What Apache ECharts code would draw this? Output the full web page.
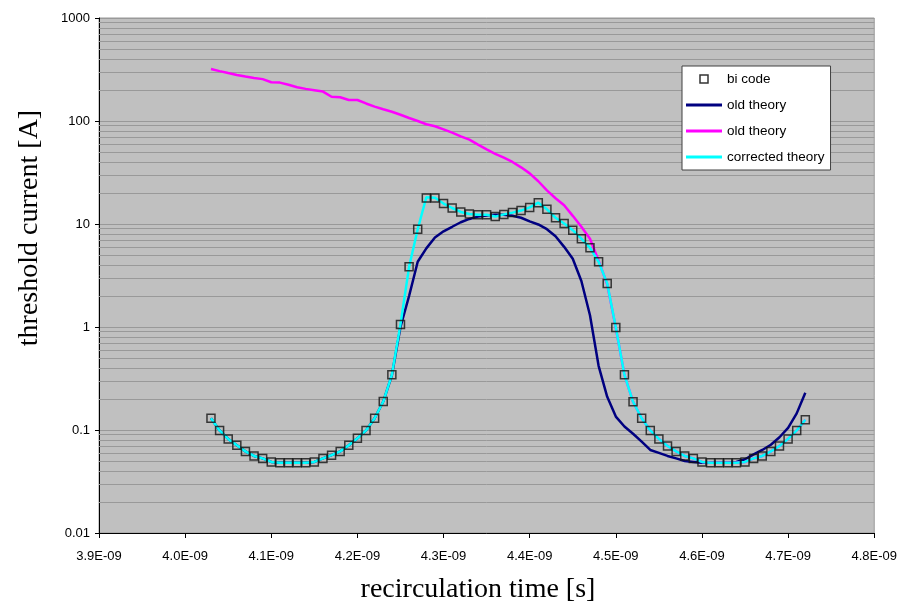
<!DOCTYPE html>
<html>
<head>
<meta charset="utf-8">
<script src="https://cdn.jsdelivr.net/npm/echarts@6/dist/echarts.min.js"></script>
<style>
  html, body { margin: 0; padding: 0; background: #fff; }
  #chart { width: 900px; height: 607px; }
</style>
</head>
<body>
<div id="chart"></div>
<script>
// recirculation time in units of 1E-09 s
const timeNs = [
  4.03, 4.04, 4.05, 4.06, 4.07, 4.08, 4.09, 4.10, 4.11, 4.12,
  4.13, 4.14, 4.15, 4.16, 4.17, 4.18, 4.19, 4.20, 4.21, 4.22,
  4.23, 4.24, 4.25, 4.26, 4.27, 4.28, 4.29, 4.30, 4.31, 4.32,
  4.33, 4.34, 4.35, 4.36, 4.37, 4.38, 4.39, 4.40, 4.41, 4.42,
  4.43, 4.44, 4.45, 4.46, 4.47, 4.48, 4.49, 4.50, 4.51, 4.52,
  4.53, 4.54, 4.55, 4.56, 4.57, 4.58, 4.59, 4.60, 4.61, 4.62,
  4.63, 4.64, 4.65, 4.66, 4.67, 4.68, 4.69, 4.70, 4.71, 4.72
];

// threshold current [A], tracking code results
const biCode = [
  0.13, 0.099, 0.082, 0.071, 0.062, 0.056, 0.053, 0.049, 0.048, 0.048,
  0.048, 0.048, 0.049, 0.053, 0.057, 0.062, 0.071, 0.083, 0.099, 0.13,
  0.189, 0.343, 1.06, 3.84, 8.9, 17.9, 17.9, 15.8, 14.3, 13.1,
  12.5, 12.3, 12.3, 11.8, 12.4, 12.9, 13.5, 14.5, 16.1, 13.9,
  11.5, 10.1, 8.7, 7.2, 5.87, 4.3, 2.65, 0.99, 0.343, 0.188,
  0.13, 0.099, 0.082, 0.070, 0.062, 0.056, 0.053, 0.049, 0.048, 0.048,
  0.048, 0.048, 0.049, 0.053, 0.056, 0.062, 0.070, 0.082, 0.099, 0.126
];

// old theory (dark blue curve)
const oldTheoryA = [
  0.13, 0.099, 0.082, 0.071, 0.062, 0.056, 0.053, 0.049, 0.048, 0.048,
  0.048, 0.048, 0.049, 0.053, 0.057, 0.062, 0.071, 0.083, 0.099, 0.13,
  0.189, 0.34, 1.0, 2.0, 4.3, 5.8, 7.4, 8.5, 9.4, 10.4,
  11.2, 11.8, 12.1, 12.3, 12.3, 12.0, 11.5, 10.6, 9.9, 8.9,
  7.6, 6.0, 4.6, 2.8, 1.3, 0.42, 0.21, 0.135, 0.108, 0.092,
  0.077, 0.064, 0.060, 0.056, 0.053, 0.050, 0.049, 0.048, 0.048, 0.048,
  0.048, 0.049, 0.052, 0.058, 0.064, 0.072, 0.085, 0.105, 0.145, 0.23
];

// old theory (magenta curve)
const oldTheoryB = [
  320, 305, 292, 280, 270, 262, 255, 238, 236, 225,
  213, 205, 199, 193, 172, 170, 160, 160, 148, 138,
  130, 123, 115, 107, 100, 93, 89, 83, 77, 71,
  66, 59, 53, 48, 44, 40, 35.5, 31, 26, 21.2,
  17.8, 15.2, 12.0, 9.4, 7.2, 4.4, 2.6, 0.98, 0.343, 0.188,
  0.13, 0.099, 0.082, 0.070, 0.062, 0.056, 0.053, 0.049, 0.048, 0.048,
  0.048, 0.048, 0.049, 0.053, 0.056, 0.062, 0.070, 0.082, 0.099, 0.126
];

// corrected theory
const correctedTheory = [
  0.13, 0.099, 0.082, 0.071, 0.062, 0.056, 0.053, 0.049, 0.048, 0.048,
  0.048, 0.048, 0.049, 0.053, 0.057, 0.062, 0.071, 0.083, 0.099, 0.13,
  0.189, 0.343, 1.06, 3.84, 8.9, 18.2, 18.0, 15.8, 14.3, 13.1,
  12.5, 12.3, 12.3, 11.8, 12.4, 12.9, 13.5, 14.5, 16.1, 13.9,
  11.5, 10.1, 8.7, 7.2, 5.87, 4.3, 2.65, 0.99, 0.343, 0.188,
  0.13, 0.099, 0.082, 0.070, 0.062, 0.056, 0.053, 0.049, 0.048, 0.048,
  0.048, 0.048, 0.049, 0.053, 0.056, 0.062, 0.070, 0.082, 0.099, 0.126
];

const xTickValues = [3.9, 4.0, 4.1, 4.2, 4.3, 4.4, 4.5, 4.6, 4.7, 4.8];
const xTickLabels = ['3.9E-09', '4.0E-09', '4.1E-09', '4.2E-09', '4.3E-09',
                     '4.4E-09', '4.5E-09', '4.6E-09', '4.7E-09', '4.8E-09'];
const yTickValues = [0.01, 0.1, 1, 10, 100, 1000];
const yTickLabels = ['0.01', '0.1', '1', '10', '100', '1000'];
const yMinorValues = [
  0.02, 0.03, 0.04, 0.05, 0.06, 0.07, 0.08, 0.09,
  0.2, 0.3, 0.4, 0.5, 0.6, 0.7, 0.8, 0.9,
  2, 3, 4, 5, 6, 7, 8, 9,
  20, 30, 40, 50, 60, 70, 80, 90,
  200, 300, 400, 500, 600, 700, 800, 900
];

const seriesNames = ['bi code', 'old theory A', 'old theory B', 'corrected theory'];
const legendLabels = ['bi code', 'old theory', 'old theory', 'corrected theory'];

const pairs = (ys) => timeNs.map((t, i) => [t, ys[i]]);

const sans = '"Liberation Sans", Arial, sans-serif';
const serif = '"Liberation Serif", "Times New Roman", serif';
const gridColor = '#999999';

const chart = echarts.init(document.getElementById('chart'), null, { renderer: 'canvas' });

chart.setOption({
  animation: false,
  backgroundColor: '#ffffff',
  grid: {
    left: 99, right: 25, top: 18, bottom: 74,
    show: true,
    backgroundColor: '#c0c0c0',
    borderColor: gridColor,
    borderWidth: 1
  },
  xAxis: {
    type: 'value',
    min: 3.9, max: 4.8, interval: 0.1,
    axisLine: { show: true, onZero: false, lineStyle: { color: '#000', width: 1 } },
    axisTick: { show: true, inside: false, length: 5, lineStyle: { color: '#000' } },
    splitLine: { show: false },
    axisLabel: {
      margin: 17,
      color: '#000',
      fontFamily: sans,
      fontSize: 13,
      formatter: (v) => {
        const i = xTickValues.findIndex((t) => Math.abs(t - v) < 1e-6);
        return i >= 0 ? xTickLabels[i] : '';
      }
    }
  },
  yAxis: {
    type: 'log',
    logBase: 10,
    min: 0.01, max: 1000,
    axisLine: { show: true, onZero: false, lineStyle: { color: '#000', width: 1 } },
    axisTick: { show: true, inside: false, length: 4, lineStyle: { color: '#000' } },
    splitLine: { show: true, lineStyle: { color: gridColor, width: 1 } },
    minorTick: { show: false },
    axisLabel: {
      margin: 9,
      color: '#000',
      fontFamily: sans,
      fontSize: 13,
      formatter: (v) => {
        const i = yTickValues.findIndex((t) => Math.abs(Math.log10(t) - Math.log10(v)) < 1e-6);
        return i >= 0 ? yTickLabels[i] : '';
      }
    }
  },
  legend: {
    orient: 'vertical',
    left: 682, top: 66,
    padding: [6, 6, 6, 4],
    itemGap: 12,
    itemWidth: 36,
    itemHeight: 8,
    backgroundColor: '#ffffff',
    borderColor: '#404040',
    borderWidth: 1,
    borderRadius: 0,
    selectedMode: false,
    textStyle: { color: '#000', fontFamily: sans, fontSize: 13.5, lineHeight: 14 },
    formatter: (name) => legendLabels[seriesNames.indexOf(name)],
    data: [
      { name: seriesNames[0], icon: 'path://M0,0h10v10h-10z',
        itemStyle: { color: 'rgba(0,0,0,0)', borderColor: '#000', borderWidth: 1.5 } },
      { name: seriesNames[1], icon: 'path://M0,0h36v3h-36z', itemStyle: { color: '#000080', borderWidth: 0 } },
      { name: seriesNames[2], icon: 'path://M0,0h36v3h-36z', itemStyle: { color: '#ff00ff', borderWidth: 0 } },
      { name: seriesNames[3], icon: 'path://M0,0h36v3h-36z', itemStyle: { color: '#00ffff', borderWidth: 0 } }
    ]
  },
  graphic: [
    {
      type: 'text', x: 30, y: 228, rotation: Math.PI / 2,
      style: { text: 'threshold current [A]', font: '28px ' + serif, fill: '#000',
               textAlign: 'center', textVerticalAlign: 'middle' }
    },
    {
      type: 'text', x: 478, y: 590,
      style: { text: 'recirculation time [s]', font: '28px ' + serif, fill: '#000',
               textAlign: 'center', textVerticalAlign: 'middle' }
    }
  ],
  series: [
    {
      // minor gridlines of the logarithmic axis
      type: 'line',
      name: 'minor grid',
      data: [],
      silent: true,
      z: 1,
      markLine: {
        silent: true,
        symbol: ['none', 'none'],
        label: { show: false },
        lineStyle: { color: gridColor, width: 1, type: 'solid' },
        emphasis: { disabled: true },
        z: 1,
        data: yMinorValues.map((v) => ({ yAxis: v }))
      }
    },
    {
      name: seriesNames[1],
      type: 'line',
      data: pairs(oldTheoryA),
      symbol: 'none',
      color: '#000080',
      lineStyle: { color: '#000080', width: 2.5 },
      z: 3
    },
    {
      name: seriesNames[2],
      type: 'line',
      data: pairs(oldTheoryB),
      symbol: 'none',
      color: '#ff00ff',
      lineStyle: { color: '#ff00ff', width: 2.5 },
      z: 4
    },
    {
      name: seriesNames[3],
      type: 'line',
      data: pairs(correctedTheory),
      symbol: 'none',
      color: '#00ffff',
      lineStyle: { color: '#00ffff', width: 2.5 },
      z: 5
    },
    {
      name: seriesNames[0],
      type: 'scatter',
      data: pairs(biCode),
      symbol: 'rect',
      symbolSize: 8,
      itemStyle: { color: 'rgba(0,0,0,0)', borderColor: '#111', borderWidth: 1.5 },
      z: 6
    }
  ]
});
</script>
</body>
</html>
